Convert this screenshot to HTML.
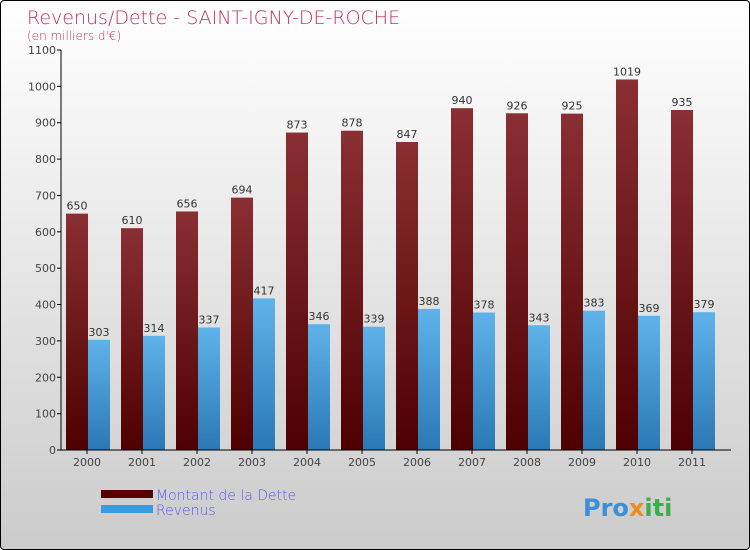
<!DOCTYPE html>
<html><head><meta charset="utf-8"><style>
body{margin:0}
#c{width:748px;height:548px;border:1px solid #000;border-radius:4px;background:linear-gradient(#fff,#f0f0f0 30%,#cbcbcb);position:relative;overflow:hidden;font-family:"DejaVu Sans","Liberation Sans",sans-serif}
</style></head><body>
<div id="c">
<svg width="748" height="548" id="s">
<defs>
<linearGradient id="gd" x1="0" y1="0" x2="0" y2="1"><stop offset="0" stop-color="#8a2f33"/><stop offset="1" stop-color="#4e0000"/></linearGradient>
<linearGradient id="gr" x1="0" y1="0" x2="0" y2="1"><stop offset="0" stop-color="#5fb3ea"/><stop offset="1" stop-color="#2a78b5"/></linearGradient>
</defs>
<text x="26" y="23" font-size="19" fill="#c0305f" font-family="DejaVu Sans" style="font-weight:200">Revenus/Dette - SAINT-IGNY-DE-ROCHE</text>
<text x="26" y="39" font-size="12" fill="#c0305f" style="font-weight:200">(en milliers d'€)</text>
<g id="plot"></g>
<rect x="100" y="489" width="52" height="8" fill="#5a0000"/>
<rect x="100" y="504" width="52" height="8" fill="#3a9be0"/>
<text x="155" y="499" font-size="14" fill="#5b5bef" style="font-weight:200">Montant de la Dette</text>
<text x="155" y="514" font-size="14" fill="#5b5bef" style="font-weight:200">Revenus</text>
<text x="582" y="515" font-size="24" font-weight="bold"><tspan fill="#3a8fd8">Pro</tspan><tspan fill="#f08a1c">x</tspan><tspan fill="#3ab04a">iti</tspan></text>
</svg></div>
<script>
const years=["2000","2001","2002","2003","2004","2005","2006","2007","2008","2009","2010","2011"];
const dette=[650,610,656,694,873,878,847,940,926,925,1019,935];
const revenus=[303,314,337,417,346,339,388,378,343,383,369,379];
const yTicks=[0,100,200,300,400,500,600,700,800,900,1000,1100];
const NS="http://www.w3.org/2000/svg";
const g=document.getElementById('plot');
const y=v=>449-v*(400/1100);
const x=i=>65+55*i;
function el(t,a){const e=document.createElementNS(NS,t);for(const k in a)e.setAttribute(k,a[k]);g.appendChild(e);return e;}
yTicks.forEach(t=>{
 const l=el('line',{x1:56,x2:60,y1:y(t),y2:y(t),stroke:'#000'});
 
 
 const tx=el('text',{x:55,y:y(t)+4,'font-size':11,fill:'#444','text-anchor':'end'});tx.textContent=t;
 
 
});
years.forEach((yr,i)=>{
 const b1=el('rect',{x:x(i),y:y(dette[i]),width:22,height:449-y(dette[i]),fill:'url(#gd)'});
 
 
 const b2=el('rect',{x:x(i)+22,y:y(revenus[i]),width:22,height:449-y(revenus[i]),fill:'url(#gr)'});
 
 
 const t1=el('text',{x:x(i)+11,y:y(dette[i])-4,'font-size':11,fill:'#333','text-anchor':'middle'});t1.textContent=dette[i];
 
 
 const t2=el('text',{x:x(i)+33,y:y(revenus[i])-4,'font-size':11,fill:'#333','text-anchor':'middle'});t2.textContent=revenus[i];
 
 
 const xt=el('text',{x:x(i)+21,y:465,'font-size':11,fill:'#444','text-anchor':'middle'});xt.textContent=yr;
 
 
 const tk=el('line',{x1:x(i)+21,x2:x(i)+21,y1:449,y2:453,stroke:'#000'});
 
 
});
const ax=el('line',{x1:60,x2:60,y1:y(1100),y2:449,stroke:'#000'});


const bx=el('line',{x1:60,x2:730,y1:449,y2:449,stroke:'#000'});


</script>
</body></html>
